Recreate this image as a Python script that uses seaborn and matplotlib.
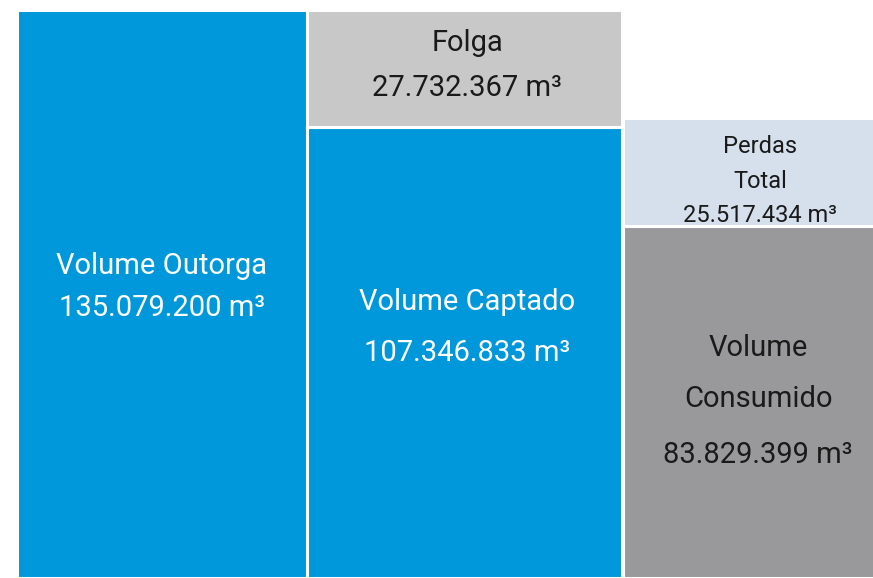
import matplotlib
matplotlib.use("Agg")
import matplotlib.pyplot as plt
import seaborn as sns

# ---- data ----
columns = ["Outorga", "Captado", "Consumido"]
bottom_labels = ["Volume Outorga", "Volume Captado", "Volume\nConsumido"]
bottom_values = [135079200, 107346833, 83829399]
top_labels = [None, "Folga", "Perdas\nTotal"]
top_values = [0, 27732367, 25517434]

# ---- style ----
sns.set_theme(style="white")
plt.rcParams["font.family"] = ["Roboto", "DejaVu Sans"]

bottom_colors = ["#0098DA", "#0098DA", "#99999B"]
top_colors = [None, "#C8C8C8", "#D5E0EC"]
col_left = [17, 307, 623]
col_width = [290, 315, 252]
BIG = 21
SMALL = 17

def fmt(v):
    return f"{v:,}".replace(",", ".") + " m³"

fig = plt.figure(figsize=(8.73, 5.78), dpi=100)
ax = fig.add_axes([0, 0, 1, 1])
scale = 1e6
ax.set_xlim(0, 873)
ax.set_ylim(0, bottom_values[0] / scale * 578 / 568)

for i in range(len(columns)):
    b = bottom_values[i] / scale
    ax.bar(col_left[i], b, width=col_width[i], align="edge",
           color=bottom_colors[i], edgecolor="white", linewidth=2.2)
    if top_values[i]:
        t = top_values[i] / scale
        ax.bar(col_left[i], t, bottom=b, width=col_width[i], align="edge",
               color=top_colors[i], edgecolor="white", linewidth=2.2)

cx = [162, 467, 760]
dark = "#1a1a1a"
# Outorga
ax.text(cx[0], 74.2, bottom_labels[0], ha="center", va="center",
        color="white", fontsize=BIG)
ax.text(cx[0], 64.2, fmt(bottom_values[0]), ha="center", va="center",
        color="white", fontsize=BIG)
# Captado
ax.text(cx[1], 65.6, bottom_labels[1], ha="center", va="center",
        color="white", fontsize=BIG)
ax.text(cx[1], 53.5, fmt(bottom_values[1]), ha="center", va="center",
        color="white", fontsize=BIG)
# Folga
ax.text(cx[1], 127.2, top_labels[1], ha="center", va="center",
        color=dark, fontsize=BIG)
ax.text(cx[1], 116.5, fmt(top_values[1]), ha="center", va="center",
        color=dark, fontsize=BIG)
# Perdas
for txt, yy in [("Perdas", 102.5), ("Total", 94.2),
                (fmt(top_values[2]), 86.3)]:
    ax.text(cx[2], yy, txt, ha="center", va="center", color=dark,
            fontsize=SMALL)
# Consumido
ax.text(cx[2] - 2, 54.7, "Volume", ha="center", va="center",
        color=dark, fontsize=BIG)
ax.text(cx[2] - 2, 42.6, "Consumido", ha="center", va="center",
        color=dark, fontsize=BIG)
ax.text(cx[2] - 2, 29.3, fmt(bottom_values[2]), ha="center", va="center",
        color=dark, fontsize=BIG)

ax.set_axis_off()
fig.savefig("out.png", dpi=100)
